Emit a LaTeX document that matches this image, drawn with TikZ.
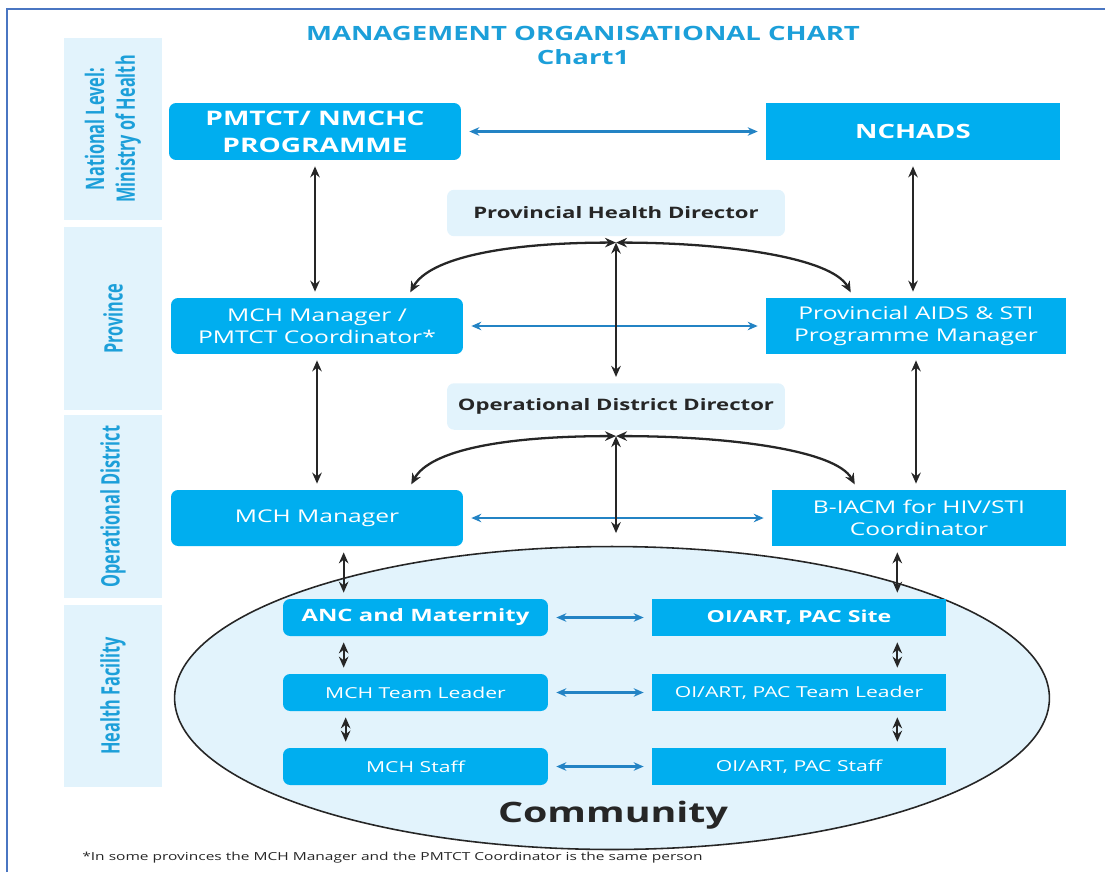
\documentclass[tikz,border=0pt]{standalone}
\usepackage{fontspec}
\setmainfont{Open Sans}[FakeStretch=1.4]
\newfontfamily\bandfont{Open Sans}[FakeStretch=0.64]
\usepackage{tikz}
\usetikzlibrary{arrows.meta, positioning, shapes.geometric}
\definecolor{boxc}{HTML}{00AEEF}
\definecolor{pale}{HTML}{E2F3FC}
\definecolor{headc}{HTML}{1C9FD9}
\definecolor{linkc}{HTML}{2383C4}
\definecolor{framec}{HTML}{4A76C2}

\begin{document}
\begin{tikzpicture}[
    x=0.02cm, y=-0.02cm,
    >={Stealth[length=2.2mm, width=1.9mm]},
    unit/.style={fill=boxc, text=white, align=center, inner sep=2pt, minimum width=#1},
    unit/.default=58.8mm,
    runit/.style={unit=#1, rounded corners=4pt},
    runit/.default=58.4mm,
    director/.style={fill=pale, rounded corners=4pt, minimum width=67.6mm, minimum height=9.3mm, font=\fontsize{9}{10}\selectfont\bfseries, text=black!85},
    band/.style={fill=pale, minimum width=36.6mm, minimum height=19.6mm, rotate=90, text=headc, align=center, font=\bandfont\fontsize{14.5}{17.5}\selectfont\bfseries},
    link/.style={<->, line width=1.3pt, draw=black!85, shorten >=1.2mm, shorten <=1.2mm},
    peer/.style={<->, line width=1.2pt, draw=linkc, >={Stealth[length=2mm, width=1.7mm]}, shorten >=1.6mm, shorten <=1.6mm},
  ]
  \useasboundingbox (0,0) rectangle (1105,872);
  \draw[framec, line width=1pt] (7,872) -- (7,9) -- (1105,9);
  % ---- heading
  \node[text=headc, font=\fontsize{11.2}{13}\selectfont\bfseries] (head) at (583,33) {MANAGEMENT ORGANISATIONAL CHART};
  \node[text=headc, font=\fontsize{11.2}{13}\selectfont\bfseries] (sub) at (583,57) {Chart1};
  % ---- levels on the left
  \node[band] (natband) at (113,129) {National Level:\\ Ministry of Health};
  \node[band] (provband) at (113,318.5) {Province};
  \node[band] (odband) at (113,506.5) {Operational District};
  \node[band, minimum width=36.4mm] (hfband) at (113,696) {Health Facility};
  % ---- community
  \node[ellipse, draw=black!85, line width=0.9pt, fill=pale, minimum width=175mm, minimum height=60.6mm] (comm) at (612,698) {};
  \node[font=\fontsize{16}{18}\selectfont\bfseries, text=black!85] (commlab) at (613,815) {Community};
  % ---- national
  \node[runit, minimum height=11.4mm, font=\fontsize{11.4}{15.3}\selectfont\bfseries] (prog) at (315,131.5) {PMTCT/ NMCHC\\ PROGRAMME};
  \node[unit, minimum height=11.4mm, font=\fontsize{11.2}{13}\selectfont\bfseries] (nchads) at (913,131.5) {NCHADS};
  % ---- province
  \node[director] (phd) at (616,213) {Provincial Health Director};
  \node[runit, minimum height=11.2mm, font=\fontsize{10}{12.6}\selectfont] (mchp) at (317,326) {MCH Manager /\\ PMTCT Coordinator*};
  \node[unit=60mm, minimum height=11.2mm, font=\fontsize{10}{12.6}\selectfont] (pasm) at (916,326) {Provincial AIDS \& STI\\ Programme Manager};
  % ---- operational district
  \node[director] (odd) at (616,406.5) {Operational District Director};
  \node[runit, minimum height=11.2mm, font=\fontsize{10}{12.6}\selectfont] (mchm) at (317,518) {MCH Manager};
  \node[unit, minimum height=11.2mm, font=\fontsize{10}{12.6}\selectfont] (biacm) at (919,518) {B-IACM for HIV/STI\\ Coordinator};
  % ---- health facility
  \node[runit=53mm, minimum height=7.4mm, font=\fontsize{9.7}{11}\selectfont\bfseries] (anc) at (415.5,617.5) {ANC and Maternity};
  \node[unit, minimum height=7.4mm, font=\fontsize{9.4}{11}\selectfont\bfseries] (site) at (799,617.5) {OI/ART, PAC Site};
  \node[runit=53mm, minimum height=7.4mm, font=\fontsize{8.6}{10}\selectfont] (mtl) at (415.5,692.5) {MCH Team Leader};
  \node[unit, minimum height=7.4mm, font=\fontsize{8.6}{10}\selectfont] (stl) at (799,692.5) {OI/ART, PAC Team Leader};
  \node[runit=53mm, minimum height=7.4mm, font=\fontsize{8.6}{10}\selectfont] (mst) at (415.5,766.5) {MCH Staff};
  \node[unit, minimum height=7.4mm, font=\fontsize{8.6}{10}\selectfont] (sst) at (799,766.5) {OI/ART, PAC Staff};
  % ---- footnote
  \node[anchor=west, inner sep=0pt, font=\fontsize{6.3}{8}\selectfont, text=black!85] (note) at (82,858) {*In some provinces the MCH Manager and the PMTCT Coordinator is the same person};
  % ---- peer links
  \draw[peer] (prog) -- (nchads);
  \draw[peer] (mchp) -- (pasm);
  \draw[peer] (mchm) -- (biacm);
  \draw[peer] (anc) -- (site);
  \draw[peer] (mtl) -- (stl);
  \draw[peer] (mst) -- (sst);
  % ---- reporting lines
  \draw[link] (prog.south) -- (prog.south |- mchp.north);
  \draw[link] (nchads.south) -- (nchads.south |- pasm.north);
  \draw[link] (mchp.south) -- (mchm.north);
  \draw[link] (pasm.south) -- (pasm.south |- biacm.north);
  \coordinate (phdjoin) at ([yshift=-1.2mm]phd.south);
  \coordinate (oddjoin) at ([yshift=-1.2mm]odd.south);
  \coordinate (oddfoot) at ([yshift=-19.4mm]oddjoin);
  \draw[link, shorten <=0pt] (phdjoin) -- (odd.north);
  \draw[link, shorten <=0pt] (phdjoin) .. controls +(-110,0) and +(22,-40) .. ([xshift=-11.2mm]mchp.north east);
  \draw[link, shorten <=0pt] (phdjoin) .. controls +(110,0) and +(-22,-40) .. ([xshift=17.6mm]pasm.north west);
  \draw[link, shorten <=0pt, shorten >=0pt] (oddjoin) -- (oddfoot);
  \draw[link, shorten <=0pt] (oddjoin) .. controls +(-110,0) and +(22,-40) .. ([xshift=-11mm]mchm.north east);
  \draw[link, shorten <=0pt] (oddjoin) .. controls +(110,0) and +(-22,-40) .. ([xshift=17.2mm]biacm.north west);
  \draw[link] ([xshift=12.2mm]anc.north west |- mchm.south) -- ([xshift=12.2mm]anc.north west);
  \draw[link] ([xshift=-9.8mm]site.north east |- biacm.south) -- ([xshift=-9.8mm]site.north east);
  \draw[link] ([xshift=12.2mm]anc.south west) -- ([xshift=12.2mm]mtl.north west);
  \draw[link] ([xshift=12.6mm]mtl.south west) -- ([xshift=12.6mm]mst.north west);
  \draw[link] ([xshift=-9.8mm]site.south east) -- ([xshift=-9.8mm]stl.north east);
  \draw[link] ([xshift=-9.8mm]stl.south east) -- ([xshift=-9.8mm]sst.north east);
\end{tikzpicture}
\end{document}
